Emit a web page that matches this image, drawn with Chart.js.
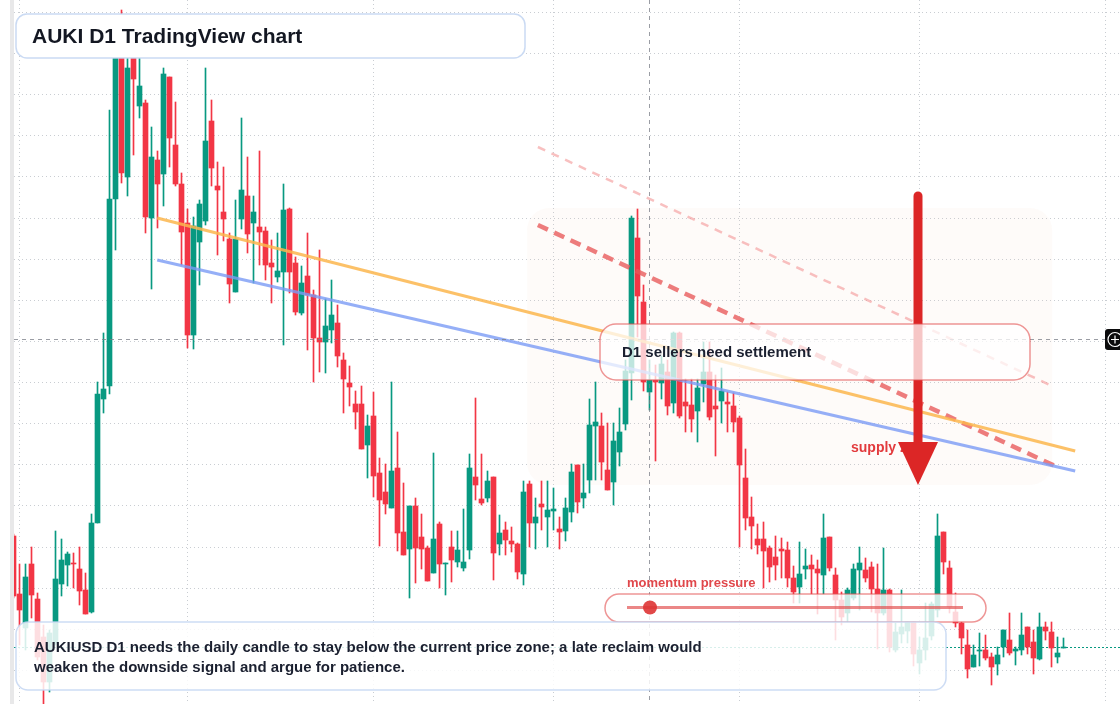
<!DOCTYPE html>
<html>
<head>
<meta charset="utf-8">
<title>AUKI D1 TradingView chart</title>
<script src="https://cdn.jsdelivr.net/npm/chart.js@4.4.1/dist/chart.umd.min.js"></script>
<style>
  html, body { margin: 0; padding: 0; background: #fff; }
  #wrap { width: 1120px; height: 704px; }
</style>
</head>
<body>
<div id="wrap"><canvas id="chart" width="1120" height="704"></canvas></div>
<script>
// AUKIUSD daily candles, index 0 = 31 Jan. Prices in 1e-5 USD.
const opens = [
  464, 406, 372, 436, 401, 363, 318, 357, 416, 435, 437, 431, 410, 388, 477, 601, 614, 801, 955, 823,
  945, 894, 897, 782, 840, 826, 923, 855, 816, 777, 665, 758, 779, 879, 814, 788, 761, 708, 781, 804,
  777, 773, 769, 737, 723, 728, 791, 737, 687, 724, 705, 662, 658, 670, 677, 640, 617, 596, 596, 555,
  584, 527, 508, 492, 532, 468, 451, 494, 463, 452, 427, 476, 436, 453, 438, 432, 450, 523, 501, 502,
  523, 456, 470, 459, 456, 426, 516, 477, 496, 483, 489, 471, 469, 488, 535, 502, 520, 574, 574, 530,
  518, 548, 576, 627, 762, 698, 608, 620, 617, 628, 597, 667, 598, 595, 589, 616, 628, 594, 599, 598,
  594, 582, 522, 483, 461, 461, 452, 443, 451, 450, 422, 413, 431, 435, 431, 425, 463, 425, 400, 387,
  402, 430, 430, 433, 411, 387, 410, 350, 366, 369, 378, 337, 350, 364, 390, 468, 432, 388, 377, 355,
  333, 349, 350, 343, 336, 353, 360, 349, 350, 373, 358, 341, 373, 368, 343, 352
];
const highs = [
  466, 436, 436, 453, 407, 375, 370, 469, 461, 448, 447, 453, 427, 486, 618, 667, 890, 965, 990, 950,
  955, 952, 900, 873, 849, 932, 923, 898, 827, 791, 783, 800, 932, 900, 838, 833, 767, 800, 882, 843,
  804, 849, 773, 760, 767, 816, 792, 743, 734, 767, 710, 750, 701, 720, 695, 647, 634, 609, 614, 585,
  608, 542, 536, 618, 568, 517, 494, 502, 486, 454, 547, 478, 437, 469, 469, 491, 546, 602, 546, 529,
  523, 485, 478, 473, 457, 519, 519, 502, 519, 519, 512, 483, 502, 536, 535, 536, 601, 618, 587, 577,
  577, 592, 640, 784, 791, 715, 640, 635, 644, 640, 668, 668, 621, 621, 621, 658, 658, 625, 632, 608,
  607, 584, 551, 503, 476, 478, 454, 464, 462, 458, 434, 458, 451, 445, 440, 486, 463, 432, 408, 412,
  436, 453, 442, 438, 436, 452, 411, 377, 410, 378, 378, 363, 397, 398, 486, 468, 439, 407, 378, 370,
  355, 367, 365, 347, 353, 370, 387, 353, 387, 373, 370, 387, 378, 378, 363, 362
];
const lows = [
  402, 355, 350, 382, 340, 296, 308, 355, 404, 414, 412, 395, 386, 387, 477, 587, 606, 750, 817, 804,
  845, 882, 767, 711, 772, 794, 833, 814, 735, 652, 651, 715, 775, 814, 745, 759, 697, 708, 771, 747,
  717, 735, 720, 697, 718, 655, 707, 685, 685, 650, 618, 628, 627, 657, 633, 587, 594, 571, 551, 522,
  503, 454, 486, 492, 449, 445, 402, 417, 431, 419, 427, 412, 405, 418, 433, 429, 441, 500, 495, 498,
  420, 445, 445, 448, 421, 415, 453, 451, 470, 453, 470, 451, 459, 478, 487, 492, 507, 520, 520, 510,
  495, 534, 570, 600, 663, 609, 590, 539, 601, 585, 587, 582, 568, 568, 558, 598, 580, 544, 577, 568,
  568, 453, 470, 451, 446, 412, 418, 420, 422, 413, 397, 397, 421, 406, 386, 406, 429, 360, 375, 378,
  400, 390, 418, 388, 351, 385, 348, 348, 357, 357, 334, 326, 340, 360, 383, 426, 387, 373, 346, 322,
  333, 334, 340, 315, 325, 343, 345, 335, 345, 346, 326, 340, 360, 333, 337, 352
];
const closes = [
  404, 390, 423, 405, 343, 318, 367, 421, 440, 446, 436, 409, 386, 477, 606, 611, 801, 955, 827, 932,
  921, 914, 783, 843, 816, 926, 862, 816, 768, 665, 774, 796, 859, 832, 810, 781, 716, 761, 810, 766,
  788, 768, 735, 733, 729, 790, 728, 688, 717, 705, 662, 658, 674, 685, 644, 621, 613, 588, 551, 574,
  524, 500, 496, 529, 467, 445, 494, 452, 451, 419, 461, 436, 437, 440, 450, 438, 532, 515, 497, 519,
  447, 467, 460, 456, 428, 508, 477, 483, 493, 490, 491, 468, 492, 528, 498, 507, 575, 578, 538, 510,
  559, 568, 629, 782, 704, 618, 620, 618, 636, 594, 667, 584, 594, 581, 612, 628, 583, 591, 609, 596,
  578, 535, 482, 474, 455, 449, 433, 435, 449, 422, 408, 426, 434, 431, 427, 462, 432, 400, 383, 410,
  431, 437, 422, 411, 387, 410, 353, 368, 373, 378, 346, 350, 362, 396, 464, 438, 393, 377, 362, 331,
  345, 350, 342, 333, 345, 370, 347, 351, 365, 353, 342, 373, 369, 352, 347, 353
];

// grid: month starts (Feb 1 .. Aug 1) and price levels
const monthStarts = [1, 29, 60, 90, 121, 151, 182];
const priceGrid = [330, 371, 412, 453, 495, 536, 577, 618, 659, 700, 741, 782, 824, 865, 906, 947, 988];

// drawn trend lines, [day index, price]
const orangeTrend = [[23.95, 782], [176.95, 549]];
const blueTrend = [[23.95, 740], [176.95, 529]];
const redChannel = [[87.4, 775], [173.6, 534]];
const pinkChannel = [[87.4, 853], [173.1, 614]];

// supply zone [fromDay, toDay, low, high], arrow [day, top, tip]
const supplyZone = [85.6, 173.1, 515, 792];
const supplyArrow = [150.75, 804, 515];
const crosshair = [106, 661];

const UP = "#089981";
const DOWN = "#f23645";
const FONT = '"Liberation Sans", Arial, sans-serif';

const days = opens.map((_, i) => i);
const candleColor = (ctx) => (closes[ctx.dataIndex] >= opens[ctx.dataIndex] ? UP : DOWN);
const toPoints = (pts) => pts.map(([x, y]) => ({ x, y }));

function roundRect(ctx, x, y, w, h, r) {
  ctx.beginPath();
  ctx.roundRect(x, y, w, h, r);
}

function textBox(ctx, x, y, w, h, r, fill, stroke) {
  roundRect(ctx, x, y, w, h, r);
  ctx.fillStyle = fill;
  ctx.fill();
  ctx.lineWidth = 1.5;
  ctx.strokeStyle = stroke;
  ctx.stroke();
}

const overlay = {
  id: "overlay",
  beforeDraw(chart) {
    const { ctx } = chart;
    ctx.save();
    ctx.fillStyle = "#ffffff";
    ctx.fillRect(0, 0, chart.width, chart.height);
    ctx.fillStyle = "#e8e8e9";
    ctx.fillRect(10, 0, 4, chart.height);
    ctx.restore();
  },
  beforeDatasetsDraw(chart) {
    const { ctx, chartArea, scales: { x, y } } = chart;
    ctx.save();
    const zx = x.getPixelForValue(supplyZone[0]);
    const zy = y.getPixelForValue(supplyZone[3]);
    roundRect(ctx, zx, zy, x.getPixelForValue(supplyZone[1]) - zx, y.getPixelForValue(supplyZone[2]) - zy, 22);
    ctx.fillStyle = "rgba(240, 215, 190, 0.09)";
    ctx.fill();

    // last price
    const ly = Math.round(y.getPixelForValue(closes[closes.length - 1])) + 0.5;
    ctx.strokeStyle = UP;
    ctx.lineWidth = 1;
    ctx.setLineDash([2, 2]);
    ctx.beginPath();
    ctx.moveTo(chartArea.left, ly);
    ctx.lineTo(chartArea.right, ly);
    ctx.stroke();
    ctx.restore();
  },
  afterDatasetsDraw(chart) {
    const { ctx, chartArea, scales: { x, y } } = chart;
    ctx.save();

    // crosshair
    const cx = x.getPixelForValue(crosshair[0]);
    const cy = Math.round(y.getPixelForValue(crosshair[1])) + 0.5;
    ctx.strokeStyle = "rgba(120, 124, 134, 0.75)";
    ctx.lineWidth = 1;
    ctx.setLineDash([4, 4]);
    ctx.beginPath();
    ctx.moveTo(cx, chartArea.top);
    ctx.lineTo(cx, chartArea.bottom);
    ctx.moveTo(chartArea.left, cy);
    ctx.lineTo(1105, cy);
    ctx.stroke();
    ctx.setLineDash([]);

    // crosshair handle
    roundRect(ctx, 1105, cy - 10.5, 20, 21, 3);
    ctx.fillStyle = "#0b0b0c";
    ctx.fill();
    ctx.strokeStyle = "#ffffff";
    ctx.lineWidth = 1.2;
    ctx.beginPath();
    ctx.arc(1115, cy, 7, 0, Math.PI * 2);
    ctx.moveTo(1111, cy);
    ctx.lineTo(1119, cy);
    ctx.moveTo(1115, cy - 4);
    ctx.lineTo(1115, cy + 4);
    ctx.stroke();

    // supply zone label and arrow
    ctx.font = `bold 14px ${FONT}`;
    ctx.textBaseline = "middle";
    ctx.fillStyle = "#e23a3d";
    ctx.fillText("supply zone", 851, 448);

    const ax = x.getPixelForValue(supplyArrow[0]);
    const aTop = y.getPixelForValue(supplyArrow[1]);
    const aTip = y.getPixelForValue(supplyArrow[2]);
    const headBase = aTip - 43;
    ctx.strokeStyle = "#dc2626";
    ctx.lineWidth = 9;
    ctx.lineCap = "round";
    ctx.beginPath();
    ctx.moveTo(ax, aTop);
    ctx.lineTo(ax, headBase + 2);
    ctx.stroke();
    ctx.lineCap = "butt";
    ctx.fillStyle = "#dc2626";
    ctx.beginPath();
    ctx.moveTo(ax - 20, headBase);
    ctx.lineTo(ax + 20, headBase);
    ctx.lineTo(ax, aTip);
    ctx.closePath();
    ctx.fill();

    // sellers box
    textBox(ctx, 600, 324, 430, 56, 16, "rgba(255, 255, 255, 0.74)", "rgba(226, 80, 80, 0.6)");
    ctx.fillStyle = "#1b2030";
    ctx.font = `bold 15px ${FONT}`;
    ctx.fillText("D1 sellers need settlement", 622, 353);

    // momentum pill
    textBox(ctx, 605, 594, 381, 28, 14, "rgba(255, 255, 255, 0.8)", "rgba(226, 80, 80, 0.6)");
    ctx.strokeStyle = "rgba(224, 70, 70, 0.65)";
    ctx.lineWidth = 3;
    ctx.beginPath();
    ctx.moveTo(627, 607.5);
    ctx.lineTo(963, 607.5);
    ctx.stroke();
    ctx.fillStyle = "rgba(222, 52, 52, 0.9)";
    ctx.beginPath();
    ctx.arc(cx + 0.5, 607.5, 7, 0, Math.PI * 2);
    ctx.fill();
    ctx.fillStyle = "#e0474b";
    ctx.font = `bold 13px ${FONT}`;
    ctx.fillText("momentum pressure", 627, 583);

    // note box
    textBox(ctx, 16, 622, 930, 68, 12, "rgba(255, 255, 255, 0.84)", "rgba(196, 214, 242, 0.85)");
    ctx.fillStyle = "#1b2030";
    ctx.font = `bold 15px ${FONT}`;
    ctx.fillText("AUKIUSD D1 needs the daily candle to stay below the current price zone; a late reclaim would", 34, 648);
    ctx.fillText("weaken the downside signal and argue for patience.", 34, 668);

    // title
    textBox(ctx, 16, 14, 509, 44, 11, "#ffffff", "rgba(196, 214, 242, 0.9)");
    ctx.fillStyle = "#131722";
    ctx.font = `bold 21px ${FONT}`;
    ctx.fillText("AUKI D1 TradingView chart", 32, 37);

    ctx.restore();
  },
};

const trend = (label, points, color, width, dash) => ({
  type: "line",
  label,
  data: toPoints(points),
  borderColor: color,
  borderWidth: width,
  borderDash: dash,
  pointRadius: 0,
  tension: 0,
  order: 1,
});

new Chart(document.getElementById("chart"), {
  type: "bar",
  data: {
    datasets: [
      trend("Orange trend", orangeTrend, "rgba(251, 182, 78, 0.85)", 3, []),
      trend("Blue trend", blueTrend, "rgba(122, 155, 245, 0.8)", 3, []),
      trend("Channel", redChannel, "rgba(232, 88, 88, 0.78)", 4.5, [11, 7]),
      trend("Channel top", pinkChannel, "rgba(243, 150, 150, 0.6)", 2.5, [8, 7]),
      {
        label: "Bodies",
        data: days.map((i) => ({ x: i, y: [Math.min(opens[i], closes[i]), Math.max(opens[i], closes[i])] })),
        backgroundColor: candleColor,
        barThickness: 5,
        minBarLength: 1,
        grouped: false,
        order: 3,
      },
      {
        label: "Wicks",
        data: days.map((i) => ({ x: i, y: [lows[i], highs[i]] })),
        backgroundColor: candleColor,
        barThickness: 1,
        grouped: false,
        order: 4,
      },
    ],
  },
  options: {
    responsive: false,
    animation: false,
    devicePixelRatio: 1,
    events: [],
    layout: { padding: { left: 14, right: 0, top: 0, bottom: 0 } },
    plugins: { legend: { display: false }, tooltip: { enabled: false } },
    scales: {
      x: {
        type: "linear",
        offset: false,
        min: 0.0833,
        max: 184.4167,
        afterBuildTicks: (scale) => {
          scale.ticks = monthStarts.map((value) => ({ value }));
        },
        ticks: { display: false },
        grid: { color: "#c9cdd2", drawTicks: false, offset: false },
        border: { display: false, dash: [1, 3] },
      },
      y: {
        min: 296,
        max: 1000,
        afterBuildTicks: (scale) => {
          scale.ticks = priceGrid.map((value) => ({ value }));
        },
        ticks: { display: false },
        grid: { color: "#c9cdd2", drawTicks: false },
        border: { display: false, dash: [1, 3] },
      },
    },
  },
  plugins: [overlay],
});
</script>
</body>
</html>
